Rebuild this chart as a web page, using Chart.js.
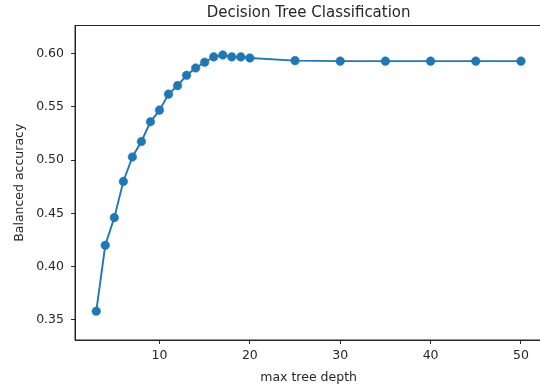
<!DOCTYPE html>
<html>
<head>
<meta charset="utf-8">
<script src="https://cdn.jsdelivr.net/npm/chart.js@4/dist/chart.umd.min.js"></script>
<style>
  html, body { margin: 0; padding: 0; background: #fff; overflow: hidden; }
  canvas { display: block; }
</style>
</head>
<body>
<canvas id="chart" width="547" height="389"></canvas>
<script>
// values
const depths = [3, 4, 5, 6, 7, 8, 9, 10, 11, 12, 13, 14, 15, 16, 17, 18, 19, 20, 25, 30, 35, 40, 45, 50]
const accuracy = [0.358, 0.420, 0.446, 0.480, 0.503, 0.5175, 0.536, 0.547, 0.562, 0.570, 0.5797, 0.5866, 0.592, 0.597, 0.5988, 0.597, 0.597, 0.596, 0.5935, 0.593, 0.593, 0.593, 0.593, 0.593]
const xTicks = [10, 20, 30, 40, 50]
const yTicks = [0.35, 0.40, 0.45, 0.50, 0.55, 0.60]

const blue = '#1f77b4'
const ink = '#262626'
const font = { family: 'DejaVu Sans', size: 12.5 }

new Chart('chart', {
  type: 'line',
  data: {
    datasets: [{
      data: depths.map((d, i) => ({ x: d, y: accuracy[i] })),
      borderColor: blue,
      backgroundColor: blue,
      borderWidth: 1.9,
      pointRadius: 4.3,
      pointBorderWidth: 0.5,
      pointBackgroundColor: blue,
      pointBorderColor: blue,
      tension: 0,
      clip: false
    }]
  },
  options: {
    responsive: false,
    animation: false,
    devicePixelRatio: 1,
    layout: { padding: 0 },
    plugins: {
      legend: { display: false },
      tooltip: { enabled: false },
      title: {
        display: true,
        text: 'Decision Tree Classification',
        fullSize: false,
        color: ink,
        font: { family: 'DejaVu Sans', size: 15, weight: 'normal' },
        padding: { top: 4, bottom: 3.5 }
      }
    },
    scales: {
      x: {
        type: 'linear',
        min: 0.65,
        max: 52.35,
        afterFit: s => { s.height = 49 },
        afterBuildTicks: s => { s.ticks = xTicks.map(v => ({ value: v })) },
        grid: { drawOnChartArea: false, drawTicks: true, tickLength: 4, color: ink },
        border: { display: true, color: ink, width: 1 },
        ticks: { color: ink, font, padding: 4, maxRotation: 0, callback: v => String(v) },
        title: { display: true, text: 'max tree depth', color: ink, font, padding: { top: 0, bottom: 4 } }
      },
      y: {
        type: 'linear',
        min: 0.331,
        max: 0.6265,
        afterFit: s => { s.width = 75 },
        afterBuildTicks: s => { s.ticks = yTicks.map(v => ({ value: v })) },
        grid: { drawOnChartArea: false, drawTicks: true, tickLength: 4, color: ink },
        border: { display: true, color: ink, width: 1 },
        ticks: { color: ink, font, padding: 7, callback: v => v.toFixed(2) },
        title: { display: true, text: 'Balanced accuracy', color: ink, font, padding: { top: 12, bottom: 0 } }
      }
    }
  },
  plugins: [{
    // matplotlib draws a full box round the axes
    id: 'frame',
    afterDraw (chart) {
      const { ctx, chartArea: a } = chart
      ctx.save()
      ctx.strokeStyle = ink
      ctx.lineWidth = 1
      ctx.strokeRect(a.left, a.top, a.right - a.left, a.bottom - a.top)
      ctx.restore()
    }
  }]
})
</script>
</body>
</html>
